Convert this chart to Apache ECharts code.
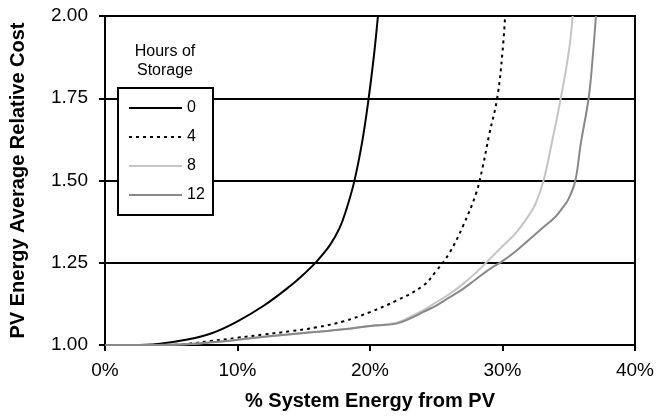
<!DOCTYPE html>
<html>
<head>
<meta charset="utf-8">
<script src="https://cdn.jsdelivr.net/npm/echarts@6/dist/echarts.min.js"></script>
<style>
html,body{margin:0;padding:0;background:#fff;}
#chart{width:657px;height:416px;}
</style>
</head>
<body>
<div id="chart"></div>
<script>
const xTicks = ['0%', '10%', '20%', '30%', '40%'];
const yTicks = ['1.00', '1.25', '1.50', '1.75', '2.00'];
const seriesNames = ['0', '4', '8', '12'];

const x0 = [0, 2, 4, 6, 8, 10, 12, 14, 15, 16, 17, 17.7, 18.2, 18.8, 19.4, 19.9, 20.3, 20.6];
const y0 = [1.00, 1.00, 1.003, 1.015, 1.035, 1.072, 1.12, 1.18, 1.215, 1.255, 1.305, 1.355, 1.41, 1.495, 1.615, 1.75, 1.88, 2.0];

const x4 = [0, 4, 6, 8, 10, 12, 14, 16, 18, 20, 22, 24, 25, 26, 27, 28, 28.5, 29, 29.6, 30, 30.2];
const y4 = [1.00, 1.00, 1.003, 1.012, 1.022, 1.032, 1.042, 1.054, 1.072, 1.10, 1.135, 1.18, 1.225, 1.28, 1.36, 1.46, 1.54, 1.64, 1.75, 1.89, 2.0];

const x8 = [0, 4, 6, 8, 10, 12, 14, 16, 18, 20, 22, 23, 24, 25, 26, 27, 28, 29, 30, 31, 32, 32.5, 33.1, 33.7, 34.4, 35, 35.3];
const y8 = [1.00, 1.00, 1.002, 1.008, 1.016, 1.025, 1.033, 1.04, 1.048, 1.058, 1.068, 1.085, 1.105, 1.13, 1.155, 1.185, 1.22, 1.26, 1.30, 1.34, 1.395, 1.43, 1.50, 1.61, 1.75, 1.89, 2.0];

const x12 = [0, 4, 6, 8, 10, 12, 14, 16, 18, 20, 22, 23, 24, 25, 26, 27, 28, 29, 30, 31, 32, 33, 34, 34.5, 35, 35.5, 35.9, 36.5, 36.8, 37.05];
const y12 = [1.00, 1.00, 1.002, 1.008, 1.016, 1.025, 1.033, 1.04, 1.048, 1.058, 1.065, 1.08, 1.10, 1.12, 1.145, 1.17, 1.20, 1.23, 1.255, 1.285, 1.32, 1.355, 1.39, 1.415, 1.445, 1.50, 1.61, 1.75, 1.87, 2.0];

function pairs(xs, ys) { return xs.map((x, i) => [x, ys[i]]); }

const FONT = '"Liberation Sans", Arial, sans-serif';
const chart = echarts.init(document.getElementById('chart'), null, {renderer: 'canvas'});

const styles = [
  {color: '#000000', width: 2, type: 'solid'},
  {color: '#000000', width: 2, type: [3, 4]},
  {color: '#c4c4c4', width: 2, type: 'solid'},
  {color: '#888888', width: 2, type: 'solid'}
];
const data = [pairs(x0, y0), pairs(x4, y4), pairs(x8, y8), pairs(x12, y12)];

chart.setOption({
  animation: false,
  backgroundColor: '#ffffff',
  grid: {left: 104, right: 20, top: 16, bottom: 71, show: true, borderColor: '#000', borderWidth: 2, backgroundColor: 'transparent'},
  xAxis: {
    type: 'value', min: 0, max: 40, interval: 10,
    name: '% System Energy from PV', nameLocation: 'middle', nameGap: 46,
    nameTextStyle: {fontFamily: FONT, fontSize: 20, fontWeight: 'bold', color: '#000'},
    axisLine: {show: true, lineStyle: {color: '#000', width: 2}},
    axisTick: {show: true, length: 6, lineStyle: {color: '#000', width: 2}},
    axisLabel: {fontFamily: FONT, fontSize: 19, color: '#000', margin: 16,
      formatter: v => xTicks[Math.round(v / 10)]},
    splitLine: {show: false}
  },
  yAxis: {
    type: 'value', min: 1, max: 2, interval: 0.25,
    name: 'PV Energy Average Relative Cost', nameLocation: 'middle', nameGap: 77,
    nameTextStyle: {fontFamily: FONT, fontSize: 20, fontWeight: 'bold', color: '#000'},
    axisLine: {show: true, lineStyle: {color: '#000', width: 2}},
    axisTick: {show: true, length: 6, lineStyle: {color: '#000', width: 2}},
    axisLabel: {fontFamily: FONT, fontSize: 19, color: '#000', margin: 17,
      formatter: v => yTicks[Math.round((v - 1) / 0.25)]},
    splitLine: {show: true, lineStyle: {color: '#000', width: 2}}
  },
  legend: {
    orient: 'vertical', left: 123, top: 95,
    itemWidth: 53, itemHeight: 14, itemGap: 13,
    itemStyle: {opacity: 0},
    textStyle: {fontFamily: FONT, fontSize: 16, color: '#000'},
    data: seriesNames, z: 20
  },
  graphic: [
    {type: 'rect', x: 118, y: 88, z: 10,
      shape: {x: 0, y: 0, width: 95, height: 127},
      style: {fill: '#fff', stroke: '#000', lineWidth: 2}},
    {type: 'text', x: 165, y: 42, z: 10,
      style: {text: 'Hours of\nStorage', textAlign: 'center', font: '16px ' + FONT, lineHeight: 19, fill: '#000'}}
  ],
  series: seriesNames.map((n, i) => ({
    name: n, type: 'line', data: data[i], smooth: 0.4,
    symbol: 'none', showSymbol: false, clip: true, z: 5,
    lineStyle: styles[i], itemStyle: {color: styles[i].color}
  }))
});
</script>
</body>
</html>
